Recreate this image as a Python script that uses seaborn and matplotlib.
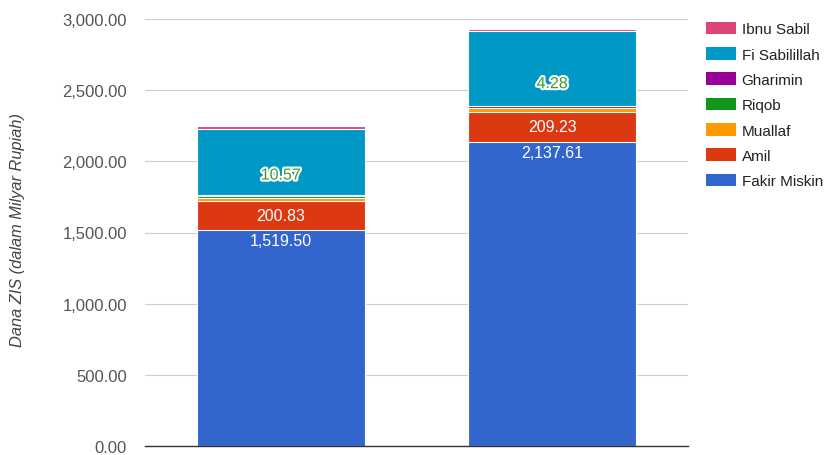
import numpy as np
import pandas as pd
import matplotlib
matplotlib.use("Agg")
import matplotlib.pyplot as plt
import matplotlib.patheffects as pe
from matplotlib.patches import Patch
from matplotlib.ticker import FuncFormatter
import seaborn as sns

categories = ["2017", "2018"]
series = ["Fakir Miskin", "Amil", "Muallaf", "Riqob", "Gharimin", "Fi Sabilillah", "Ibnu Sabil"]
fakir_miskin = [1519.50, 2137.61]
amil = [200.83, 209.23]
muallaf = [25.0, 25.0]
riqob = [10.57, 4.28]
gharimin = [8.0, 12.0]
fi_sabilillah = [465.0, 525.0]
ibnu_sabil = [18.0, 20.0]
colors = ["#3366cc", "#dc3912", "#ff9900", "#109618", "#990099", "#0099c6", "#dd4477"]

values = [fakir_miskin, amil, muallaf, riqob, gharimin, fi_sabilillah, ibnu_sabil]
df = pd.DataFrame(dict(zip(series, values)), index=categories)
cum = df.cumsum(axis=1)

sns.set_style("white")
plt.rcParams["font.family"] = ["Liberation Sans", "DejaVu Sans"]
fig = plt.figure(figsize=(8.26, 4.56), dpi=100)
ax = fig.add_axes([145 / 826, 9 / 456, 543 / 826, 427 / 456])

# stacked bars: draw cumulative totals from the top layer down
for name, col in reversed(list(zip(series, colors))):
    sns.barplot(x=categories, y=cum[name].values, color=col, width=0.62,
                edgecolor="white", linewidth=0.8, saturation=1, ax=ax)

ax.set_xlim(-0.5, 1.5)
ax.set_ylim(0, 3000)
ax.set_yticks(np.arange(0, 3001, 500))
ax.yaxis.set_major_formatter(FuncFormatter(lambda v, p: f"{v:,.2f}"))
ax.tick_params(axis="y", length=0, pad=13, labelsize=12, labelcolor="#555555")
ax.set_xticks([])
ax.set_xlabel("")
ax.grid(axis="y", color="#cccccc", linewidth=0.8)
ax.set_axisbelow(True)
for s in ["top", "right", "left"]:
    ax.spines[s].set_visible(False)
ax.spines["bottom"].set_color("#333333")
ax.spines["bottom"].set_linewidth(1)
ax.set_ylabel("Dana ZIS (dalam Milyar Rupiah)", fontsize=11.8, style="italic", color="#444444")
ax.yaxis.set_label_coords(-120 / 543, 0.508)

# data labels
for i, cat in enumerate(categories):
    ax.annotate(f"{df.loc[cat, 'Fakir Miskin']:,.2f}", (i, cum.loc[cat, "Fakir Miskin"]),
                xytext=(0, -8), textcoords="offset points", ha="center", va="center",
                color="white", fontsize=11.5)
    amil_mid = cum.loc[cat, "Amil"] - df.loc[cat, "Amil"] / 2
    ax.text(i, amil_mid, f"{df.loc[cat, 'Amil']:,.2f}", ha="center", va="center",
            color="white", fontsize=11.5)
    fi_base = cum.loc[cat, "Gharimin"]
    t = ax.text(i, fi_base + 0.3 * df.loc[cat, "Fi Sabilillah"], f"{df.loc[cat, 'Riqob']:,.2f}",
                ha="center", va="center", color="#3d9e2f", fontsize=11.5)
    t.set_path_effects([pe.withStroke(linewidth=3, foreground="white")])

handles = [Patch(facecolor=c, edgecolor="none") for c in colors]
fig.legend(handles[::-1], series[::-1], loc="upper left", bbox_to_anchor=(692 / 826, 1 - 9 / 456),
           frameon=False, fontsize=11, handlelength=1.95, handleheight=0.9,
           labelspacing=0.7, handletextpad=0.4, labelcolor="#222222")

fig.savefig("out.png", dpi=100)
